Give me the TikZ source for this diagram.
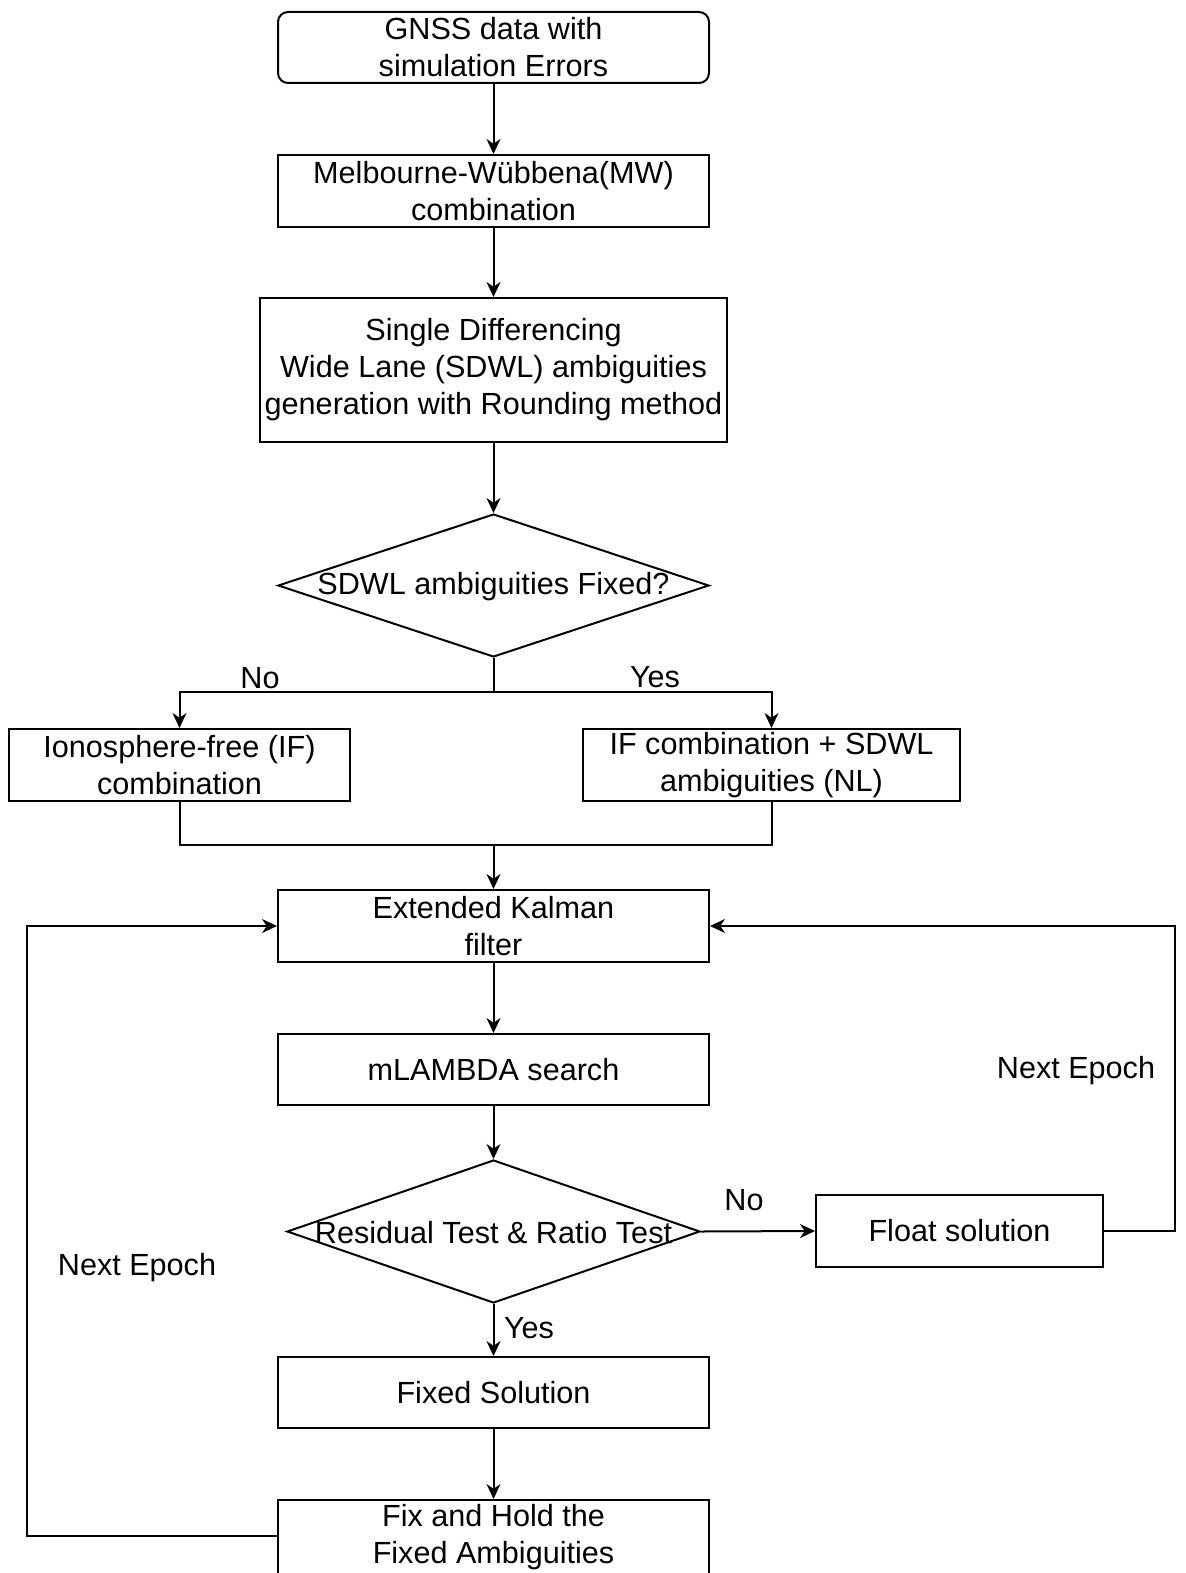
\documentclass[tikz,border=0pt]{standalone}
\usepackage{fontspec}
\setmainfont{Liberation Sans}
\usetikzlibrary{shapes.geometric,arrows.meta}
\tikzset{
  box/.style={draw, rectangle, line width=1pt, inner sep=0pt, align=center, font=\fontsize{15.3}{18.5}\selectfont},
  rbox/.style={box, rounded corners=5pt},
  dia/.style={draw, diamond, line width=1pt, inner sep=0pt},
  txt/.style={inner sep=0pt, align=center, font=\fontsize{15.3}{18.5}\selectfont},
  conn/.style={line width=1pt},
  arr/.style={conn, -{Stealth[length=7.5pt,width=7pt,inset=2.4pt]}},
}
\begin{document}
\begin{tikzpicture}[x=0.5pt,y=-0.5pt]
\useasboundingbox (0,0) rectangle (1186,1573);
\clip (0,0) rectangle (1186,1573);
% nodes
\node[rbox, minimum width=215.5pt, minimum height=35.5pt] (b1) at (493.5,47.5) {GNSS data with\\simulation Errors};
\node[box, minimum width=215.5pt, minimum height=36pt] (b2) at (493.5,191) {Melbourne-Wübbena(MW)\\combination};
\node[box, minimum width=233.5pt, minimum height=72pt] (b3) at (493.5,370) {Single Differencing\\Wide Lane (SDWL) ambiguities\\generation with Rounding method};
\node[dia, minimum width=215.5pt, minimum height=71.5pt] (d1) at (493.5,585.5) {};
\node[txt] (d1t) at (493.5,587) {SDWL ambiguities Fixed?};
\node[box, minimum width=170.5pt, minimum height=36pt] (ifc) at (179.5,765) {Ionosphere-free (IF)\\combination};
\node[box, minimum width=188.5pt, minimum height=36pt] (nl) at (771.5,765) {IF combination + SDWL\\ambiguities (NL)};
\node[box, minimum width=215.5pt, minimum height=36pt] (ekf) at (493.5,926) {Extended Kalman\\filter};
\node[box, minimum width=215.5pt, minimum height=35.5pt] (ml) at (493.5,1069.5) {mLAMBDA search};
\node[dia, minimum width=206.5pt, minimum height=71.5pt] (d2) at (493.5,1231.5) {};
\node[txt] (d2t) at (493.5,1233) {Residual Test \& Ratio Test};
\node[box, minimum width=143.5pt, minimum height=36pt] (fl) at (959.5,1231) {Float solution};
\node[box, minimum width=215.5pt, minimum height=35.5pt] (fx) at (493.5,1392.5) {Fixed Solution};
\node[box, minimum width=215.5pt, minimum height=37pt] (hold) at (493.5,1537) {Fix and Hold the\\Fixed Ambiguities};
% labels
\node[txt] (lno1) at (260,678) {No};
\node[txt] (lyes1) at (655,677) {Yes};
\node[txt] (lno2) at (744,1200) {No};
\node[txt] (lyes2) at (529,1328) {Yes};
\node[txt] (lne1) at (1076,1071) {Next Epoch};
\node[txt] (lne2) at (137,1268) {Next Epoch};
% coordinates
\coordinate (j1) at (493.5,692);
\coordinate (j2) at (493.5,845);
\coordinate (rr) at (1175,1231);
\coordinate (ll) at (27,1535.5);
% connectors
\draw[arr] (b1) -- (b2);
\draw[arr] (b2) -- (b3);
\draw[arr] (b3) -- (d1);
\draw[arr] (d1.south) -- (j1) -| (ifc.north);
\draw[arr] (j1) -| (nl.north);
\draw[conn] (ifc.south) |- (j2);
\draw[conn] (nl.south) |- (j2);
\draw[arr] (j2) -- (ekf.north);
\draw[arr] (ekf) -- (ml);
\draw[arr] (ml) -- (d2);
\draw[arr] (d2.east) -- (fl.west);
\draw[arr] (d2.south) -- (fx.north);
\draw[arr] (fx) -- (hold);
\draw[arr] (fl.east) -- (rr) |- (ekf.east);
\draw[arr] (hold.west |- ll) -- (ll) |- (ekf.west);
\end{tikzpicture}
\end{document}
